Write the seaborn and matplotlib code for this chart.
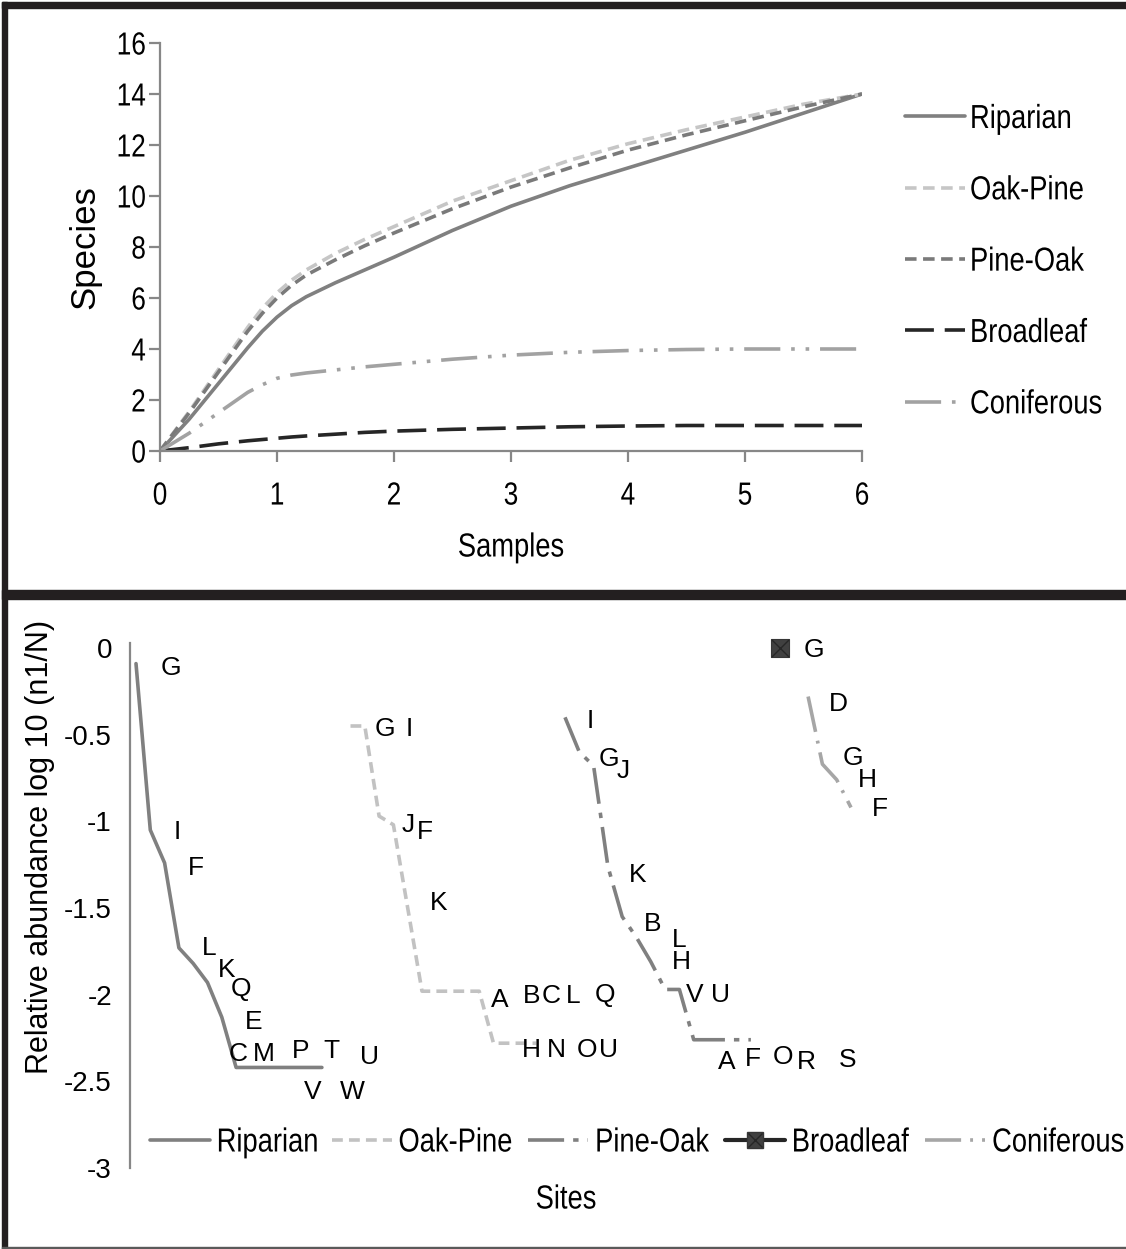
import matplotlib
matplotlib.use("Agg")
import matplotlib.pyplot as plt
import seaborn as sns
from matplotlib.lines import Line2D
from matplotlib.patches import Rectangle
from matplotlib.legend_handler import HandlerTuple
from matplotlib.patheffects import AbstractPathEffect
from matplotlib.transforms import Affine2D, Bbox

# ---------------- data: species accumulation (top) ----------------
samples = [0, 0.25, 0.5, 0.75, 0.875, 1, 1.125, 1.25, 1.5, 1.75, 2, 2.5, 3, 3.5, 4, 4.5, 5, 5.5, 6]
riparian_acc = [0, 1.25, 2.65, 4.05, 4.7, 5.25, 5.7, 6.05, 6.6, 7.1, 7.6, 8.65, 9.6, 10.4, 11.1, 11.8, 12.5, 13.25, 14]
oakpine_acc = [0, 1.55, 3.2, 4.85, 5.6, 6.2, 6.7, 7.1, 7.75, 8.3, 8.8, 9.8, 10.6, 11.4, 12.05, 12.6, 13.1, 13.6, 14]
pineoak_acc = [0, 1.5, 3.1, 4.7, 5.4, 6.0, 6.5, 6.9, 7.5, 8.05, 8.55, 9.5, 10.35, 11.1, 11.8, 12.4, 12.95, 13.5, 14]
broadleaf_acc = [0, 0.13, 0.28, 0.4, 0.45, 0.5, 0.55, 0.59, 0.66, 0.73, 0.78, 0.85, 0.9, 0.95, 0.98, 1.0, 1.0, 1.0, 1.0]
coniferous_acc = [0, 0.7, 1.5, 2.3, 2.6, 2.85, 2.98, 3.06, 3.18, 3.3, 3.4, 3.6, 3.76, 3.87, 3.94, 3.98, 4.0, 4.0, 4.0]
x_ticks_top = [0, 1, 2, 3, 4, 5, 6]
y_ticks_top = [0, 2, 4, 6, 8, 10, 12, 14, 16]
legend_names = ["Riparian", "Oak-Pine", "Pine-Oak", "Broadleaf", "Coniferous"]

# ---------------- data: rank abundance (bottom) ----------------
riparian_sites = list(range(0, 14))
riparian_species = ["G", "I", "F", "L", "K", "Q", "E", "C", "M", "P", "T", "U", "V", "W"]
riparian_abund = [-0.09, -1.05, -1.24, -1.73, -1.82, -1.93, -2.13, -2.42, -2.42, -2.42, -2.42, -2.42, -2.42, -2.42]

oakpine_sites = list(range(15, 29))
oakpine_species = ["G", "I", "J", "F", "K", "A", "B", "C", "L", "Q", "H", "N", "O", "U"]
oakpine_abund = [-0.45, -0.45, -0.97, -1.02, -1.50, -1.98, -1.98, -1.98, -1.98, -1.98, -2.28, -2.28, -2.28, -2.28]

pineoak_sites = list(range(30, 44))
pineoak_species = ["I", "G", "J", "K", "B", "L", "H", "V", "U", "A", "F", "O", "R", "S"]
pineoak_abund = [-0.40, -0.60, -0.68, -1.26, -1.55, -1.67, -1.81, -1.97, -1.97, -2.26, -2.26, -2.26, -2.26, -2.26]

broadleaf_sites = [45]
broadleaf_species = ["G"]
broadleaf_abund = [0.0]

coniferous_sites = [47, 48, 49, 50]
coniferous_species = ["D", "G", "H", "F"]
coniferous_abund = [-0.28, -0.67, -0.76, -0.92]

y_ticks_bottom = [0, -0.5, -1, -1.5, -2, -2.5, -3]
y_ticklabels_bottom = ["0", "-0.5", "-1", "-1.5", "-2", "-2.5", "-3"]

# ---------------- label placement (layout, pixels: right, up) ----------------
riparian_lab_off = [(35, -2), (27, 0), (31, -3), (30, 2), (33, -4), (34, -4), (32, -2),
                    (2, 16), (13, 16), (36, 19), (52, 19), (76, 13), (5, -22), (30, -22)]
oakpine_lab_off = [(34, -1), (44, -1), (29, -6), (31, -5), (31, 7), (78, -6), (95, -2),
                   (101, -2), (108, -2), (126, -1), (38, -4), (49, -4), (65, -4), (72, -4)]
pineoak_lab_off = [(25, -1), (30, -5), (30, -3), (30, -6), (30, -5), (43, 0), (31, 2),
                   (30, -3), (41, -3), (33, -20), (45, -17), (61, -15), (70, -20), (97, -18)]
broadleaf_lab_off = [(34, 0)]
coniferous_lab_off = [(30, -5), (31, 9), (31, 2), (29, 1)]


class Squeeze(AbstractPathEffect):
    """Draw text horizontally condensed (emulates a narrow typeface)."""

    def __init__(self, sx=0.82, anchor="left"):
        super().__init__()
        self.sx = sx
        self.anchor = anchor

    def draw_path(self, renderer, gc, tpath, affine, rgbFace=None):
        ext = tpath.get_extents()
        if self.anchor == "center":
            cx = (ext.x0 + ext.x1) / 2
        elif self.anchor == "right":
            cx = ext.x1
        else:
            cx = 0.0
        pre = Affine2D().translate(-cx, 0).scale(self.sx, 1).translate(cx, 0)
        renderer.draw_path(gc, tpath, pre + affine, rgbFace)


def squeeze_text(t, sx, anchor):
    """Condense a text when drawn, and report the condensed extent."""
    t.set_path_effects([Squeeze(sx, anchor)])
    orig = t.get_window_extent

    def gwe(renderer=None, dpi=None):
        bb = orig(renderer, dpi)
        w = bb.x1 - bb.x0
        if anchor == "left":
            nx0, nx1 = bb.x0, bb.x0 + w * sx
        elif anchor == "right":
            nx0, nx1 = bb.x1 - w * sx, bb.x1
        else:
            c = (bb.x0 + bb.x1) / 2
            nx0, nx1 = c - w * sx / 2, c + w * sx / 2
        return Bbox([[nx0, bb.y0], [nx1, bb.y1]])

    t.get_window_extent = gwe


# ---------------- styling ----------------
sns.set_theme(style="white")
REG = ["Liberation Sans", "DejaVu Sans"]
plt.rcParams["font.family"] = REG
plt.rcParams["text.color"] = "black"
SX = 0.82

W, H = 1126, 1249
fig = plt.figure(figsize=(W / 100, H / 100), dpi=100)
fig.patch.set_facecolor("white")

AX_GRAY = "#878787"

# ============== TOP PANEL ==============
ax1 = fig.add_axes([160 / W, 1 - 451 / H, (862 - 160) / W, (451 - 43) / H])
top_styles = [
    dict(color="#808080", linestyle="-"),
    dict(color="#c6c6c6", linestyle=(0, (3.2, 1.8))),
    dict(color="#7a7a7a", linestyle=(0, (3.2, 1.8))),
    dict(color="#262626", linestyle=(0, (8, 3))),
    dict(color="#a2a2a2", linestyle=(0, (10, 3, 1, 3, 1, 3))),
]
top_series = [riparian_acc, oakpine_acc, pineoak_acc, broadleaf_acc, coniferous_acc]
for ys, st in zip(top_series, top_styles):
    sns.lineplot(x=samples, y=ys, ax=ax1, linewidth=2.6, **st)

ax1.set_xlim(0, 6)
ax1.set_ylim(0, 16)
ax1.set_xticks(x_ticks_top)
ax1.set_yticks(y_ticks_top)
ax1.set_xticklabels([str(v) for v in x_ticks_top])
ax1.set_yticklabels([str(v) for v in y_ticks_top])
for s in ["top", "right"]:
    ax1.spines[s].set_visible(False)
for s in ["left", "bottom"]:
    ax1.spines[s].set_color(AX_GRAY)
    ax1.spines[s].set_linewidth(1.6)
ax1.tick_params(axis="both", direction="out", length=8, width=1.6, color=AX_GRAY,
                labelsize=23, labelcolor="black", left=True, bottom=True)
ax1.tick_params(axis="x", pad=14)
ax1.tick_params(axis="y", pad=2)
for lbl in ax1.get_xticklabels():
    squeeze_text(lbl, SX, "center")
for lbl in ax1.get_yticklabels():
    squeeze_text(lbl, SX, "right")
ax1.set_xlabel("")
ax1.set_ylabel("")

fig.text(85 / W, 1 - 247 / H, "Species", rotation=90, ha="center", va="center",
         fontsize=25)
t_samples = fig.text(511 / W, 1 - 548 / H, "Samples", ha="center", va="center", fontsize=24)
squeeze_text(t_samples, SX, "center")

top_handles = [Line2D([], [], linewidth=2.6, **st) for st in top_styles]
leg1 = fig.legend(top_handles, legend_names, loc="upper left",
                  bbox_to_anchor=(905 / W, 1 - 104 / H), bbox_transform=fig.transFigure,
                  frameon=False, prop={"size": 24},
                  handlelength=1.8, handletextpad=0.15, labelspacing=1.21,
                  borderpad=0, borderaxespad=0)
for t in leg1.get_texts():
    squeeze_text(t, SX, "left")

# ============== BOTTOM PANEL ==============
ext_top = 5 / 173.3
ax2 = fig.add_axes([130 / W, 1 - 1168 / H, 970 / W, 525 / H])
step = 14.3
x0 = -6 / step
ax2.set_xlim(x0, x0 + 970 / step)
ax2.set_ylim(-3, ext_top)

bot_styles = {
    "Riparian": dict(color="#808080", linestyle="-"),
    "Oak-Pine": dict(color="#c2c2c2", linestyle=(0, (3, 1.7))),
    "Pine-Oak": dict(color="#808080", linestyle=(0, (10, 2.5, 1.5, 2.5))),
    "Coniferous": dict(color="#a6a6a6", linestyle=(0, (10, 2.5, 0.8, 2.5))),
}
for name, xs, ys in [("Riparian", riparian_sites, riparian_abund),
                     ("Oak-Pine", oakpine_sites, oakpine_abund),
                     ("Pine-Oak", pineoak_sites, pineoak_abund),
                     ("Coniferous", coniferous_sites, coniferous_abund)]:
    sns.lineplot(x=xs, y=ys, ax=ax2, linewidth=2.6, **bot_styles[name])

sns.scatterplot(x=broadleaf_sites, y=broadleaf_abund, ax=ax2, marker="s", s=185,
                color="#404040", edgecolor="#363636", linewidth=0.8, clip_on=False, zorder=4)
sns.scatterplot(x=broadleaf_sites, y=broadleaf_abund, ax=ax2, marker="x", s=150,
                color="#262626", linewidth=1.0, clip_on=False, zorder=5)

LAB_FS = 19
cap_half = LAB_FS / 72 * 100 * 0.716 / 2
for sites, vals, names, offs in [
    (riparian_sites, riparian_abund, riparian_species, riparian_lab_off),
    (oakpine_sites, oakpine_abund, oakpine_species, oakpine_lab_off),
    (pineoak_sites, pineoak_abund, pineoak_species, pineoak_lab_off),
    (broadleaf_sites, broadleaf_abund, broadleaf_species, broadleaf_lab_off),
    (coniferous_sites, coniferous_abund, coniferous_species, coniferous_lab_off),
]:
    for xv, yv, t, (dx, dy) in zip(sites, vals, names, offs):
        ax2.annotate(t, xy=(xv, yv), xytext=(dx, dy - cap_half), textcoords="offset pixels",
                     ha="center", va="baseline", fontsize=LAB_FS,
                     color="black", annotation_clip=False)

ax2.set_yticks(y_ticks_bottom)
ax2.set_yticklabels(y_ticklabels_bottom)
ax2.set_xticks([])
for s in ["top", "right", "bottom"]:
    ax2.spines[s].set_visible(False)
ax2.spines["left"].set_color(AX_GRAY)
ax2.spines["left"].set_linewidth(1.6)
ax2.tick_params(axis="y", length=0, labelsize=20, pad=13, labelcolor="black")
ax2.set_xlabel("")
ax2.set_ylabel("")

fig.text(40 / W, 1 - 847 / H, "Relative abundance log 10 (n1/N)", rotation=90,
         ha="center", va="center", fontsize=22)
t_sites = fig.text(566 / W, 1 - 1200 / H, "Sites", ha="center", va="center", fontsize=24)
squeeze_text(t_sites, SX, "center")

bl_sq = Line2D([], [], color="#262626", linewidth=3.0, marker="s", markersize=12,
               markerfacecolor="#404040", markeredgecolor="#363636")
bl_x = Line2D([], [], linestyle="none", marker="x", markersize=10, markeredgecolor="#262626",
              markeredgewidth=1.0)
bot_handles = [
    Line2D([], [], linewidth=2.6, **bot_styles["Riparian"]),
    Line2D([], [], linewidth=2.6, **bot_styles["Oak-Pine"]),
    Line2D([], [], linewidth=2.6, **bot_styles["Pine-Oak"]),
    (bl_sq, bl_x),
    Line2D([], [], linewidth=2.6, **bot_styles["Coniferous"]),
]
leg2 = fig.legend(bot_handles, legend_names, loc="center left", ncol=5,
                  bbox_to_anchor=(150 / W, 1 - 1143 / H), bbox_transform=fig.transFigure,
                  frameon=False, prop={"size": 24},
                  handlelength=1.8, handletextpad=0.2, columnspacing=-0.27,
                  borderpad=0, borderaxespad=0,
                  handler_map={tuple: HandlerTuple(ndivide=1)})
for t in leg2.get_texts():
    squeeze_text(t, SX, "left")

# ============== frame bars ==============
BAR = "#231f20"
fig.add_artist(Rectangle((2 / W, 1 - 8 / H), 1, 6 / H, transform=fig.transFigure,
                         color=BAR, zorder=10))
fig.add_artist(Rectangle((2 / W, 0), 5 / W, 1 - 2 / H, transform=fig.transFigure,
                         color=BAR, zorder=10))
fig.add_artist(Rectangle((2 / W, 1 - 599 / H), 1, 9 / H, transform=fig.transFigure,
                         color=BAR, zorder=10))
fig.add_artist(Rectangle((2 / W, 0), 1, 2 / H, transform=fig.transFigure,
                         color="#5a5a5a", zorder=10))

fig.savefig("out.png", dpi=100, facecolor="white")
